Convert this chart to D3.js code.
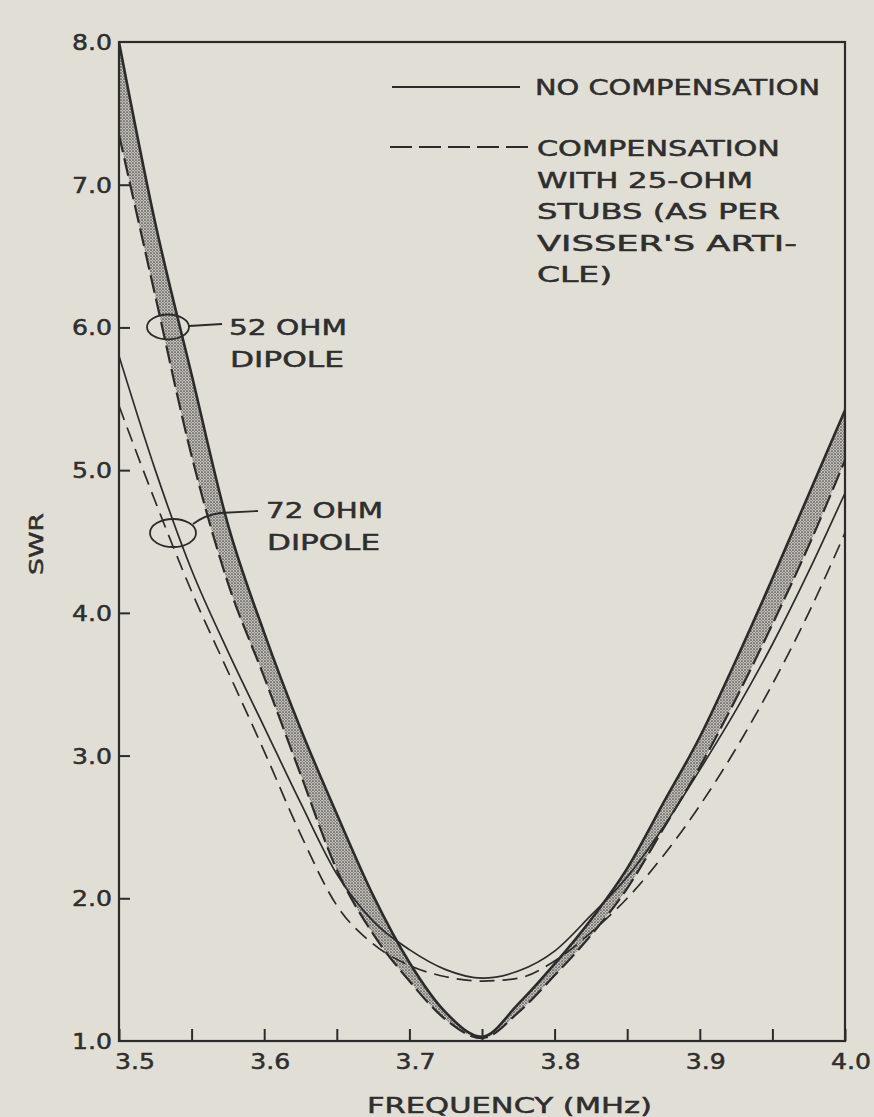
<!DOCTYPE html>
<html>
<head>
<meta charset="utf-8">
<script src="https://cdn.jsdelivr.net/npm/d3@7"></script>
<style>
  html, body { margin: 0; padding: 0; background: #e1ded5; }
  svg { display: block; }
  text { font-family: "DejaVu Sans", "Liberation Sans", sans-serif; fill: #2e2e2e;
         stroke: #2e2e2e; stroke-width: 0.5px; }
</style>
</head>
<body>
<svg id="chart" width="874" height="1117"></svg>
<script>
// Frequency samples (MHz) along the 80-meter band
const freqs = [3.500, 3.525, 3.550, 3.575, 3.600, 3.625, 3.650, 3.675, 3.700, 3.725,
               3.750, 3.775, 3.800, 3.825, 3.850, 3.875, 3.900, 3.925, 3.950, 3.975, 4.000];

// SWR of the 52-ohm dipole, no compensation / with 25-ohm stubs
const swr52Plain = [8.00, 6.73, 5.67, 4.62, 3.86, 3.19, 2.59, 2.02, 1.55, 1.20,
                    1.03, 1.26, 1.54, 1.85, 2.21, 2.67, 3.13, 3.67, 4.24, 4.83, 5.42];
const swr52Comp  = [7.35, 6.22, 5.10, 4.21, 3.55, 2.87, 2.20, 1.75, 1.42, 1.15,
                    1.02, 1.20, 1.46, 1.74, 2.07, 2.49, 2.92, 3.40, 3.92, 4.47, 5.07];

// SWR of the 72-ohm dipole, no compensation / with 25-ohm stubs
const swr72Plain = [5.80, 5.00, 4.30, 3.73, 3.20, 2.67, 2.17, 1.84, 1.64, 1.50,
                    1.44, 1.49, 1.63, 1.88, 2.15, 2.50, 2.90, 3.32, 3.78, 4.29, 4.84];
const swr72Comp  = [5.45, 4.78, 4.15, 3.59, 3.03, 2.45, 1.95, 1.68, 1.53, 1.45,
                    1.42, 1.44, 1.56, 1.76, 2.00, 2.30, 2.65, 3.05, 3.50, 4.00, 4.56];

// Axis ticks and labels
const xTickValues = [3.50, 3.55, 3.60, 3.65, 3.70, 3.75, 3.80, 3.85, 3.90, 3.95, 4.00];
const xLabelValues = [3.5, 3.6, 3.7, 3.8, 3.9, 4.0];
const yTickValues = [1, 2, 3, 4, 5, 6, 7, 8];

const legendSolid = ["NO COMPENSATION"];
const legendDashed = ["COMPENSATION", "WITH 25-OHM", "STUBS (AS PER", "VISSER'S ARTI-", "CLE)"];
const note52 = ["52 OHM", "DIPOLE"];
const note72 = ["72 OHM", "DIPOLE"];

const ink = "#2b2b2b";
const svg = d3.select("#chart");

const x = d3.scaleLinear().domain([3.5, 4.0]).range([119, 845]);
const y = d3.scaleLinear().domain([1, 8]).range([1041, 42]);

// Stipple used to shade the band between the two 52-ohm curves
const defs = svg.append("defs");
const pat = defs.append("pattern")
  .attr("id", "stipple").attr("patternUnits", "userSpaceOnUse")
  .attr("width", 3).attr("height", 3);
pat.append("rect").attr("width", 3).attr("height", 3).attr("fill", "#c2bfb7");
pat.append("circle").attr("cx", 1).attr("cy", 1).attr("r", 0.85).attr("fill", "#454545");
pat.append("circle").attr("cx", 2.5).attr("cy", 2.5).attr("r", 0.55).attr("fill", "#777");

defs.append("clipPath").attr("id", "plot")
  .append("rect").attr("x", 119).attr("y", 42).attr("width", 726).attr("height", 999);

// Text helper: fit a string to a measured width
function label(g, str, px, py, size, width, anchor) {
  const t = g.append("text")
    .attr("x", px).attr("y", py)
    .attr("font-size", size)
    .attr("text-anchor", anchor || "start")
    .text(str);
  if (width) t.attr("textLength", width).attr("lengthAdjust", "spacingAndGlyphs");
  return t;
}

const plot = svg.append("g").attr("clip-path", "url(#plot)");

// Shaded band for the 52-ohm dipole
const idx = d3.range(freqs.length);
plot.append("path")
  .datum(idx)
  .attr("d", d3.area()
    .x(i => x(freqs[i]))
    .y0(i => y(swr52Comp[i]))
    .y1(i => y(swr52Plain[i]))
    .curve(d3.curveMonotoneX))
  .attr("fill", "url(#stipple)");

function curve(values, width, dash) {
  const p = plot.append("path")
    .datum(idx)
    .attr("d", d3.line()
      .x(i => x(freqs[i]))
      .y(i => y(values[i]))
      .curve(d3.curveMonotoneX))
    .attr("fill", "none")
    .attr("stroke", ink)
    .attr("stroke-width", width)
    .attr("stroke-linecap", "butt");
  if (dash) p.attr("stroke-dasharray", dash);
}

curve(swr72Comp, 1.7, "15,8");
curve(swr72Plain, 1.7, null);
curve(swr52Comp, 2.2, "18,6");
curve(swr52Plain, 2.6, null);

// Frame
svg.append("rect")
  .attr("x", 119).attr("y", 42).attr("width", 726).attr("height", 999)
  .attr("fill", "none").attr("stroke", ink).attr("stroke-width", 2.2);

// X axis: inward ticks along the bottom edge
const xAxis = d3.axisTop(x).tickValues(xTickValues).tickSize(12).tickFormat("");
const gx = svg.append("g").attr("transform", "translate(0,1041)").call(xAxis);
gx.select(".domain").remove();
gx.selectAll("line").attr("stroke", ink).attr("stroke-width", 2);

// Y axis: inward ticks along the left edge
const yAxis = d3.axisRight(y).tickValues(yTickValues.slice(1, -1)).tickSize(11).tickFormat("");
const gy = svg.append("g").attr("transform", "translate(119,0)").call(yAxis);
gy.select(".domain").remove();
gy.selectAll("line").attr("stroke", ink).attr("stroke-width", 2);

const labels = svg.append("g");
yTickValues.forEach(v => {
  label(labels, v.toFixed(1), 112, y(v) + 8, 22, 40, "end");
});
xLabelValues.forEach((v, i) => {
  if (i === 0) label(labels, v.toFixed(1), x(v) - 4, 1069, 22, 40, "start");
  else label(labels, v.toFixed(1), x(v) + 6, 1069, 22, 40, "middle");
});

label(labels, "FREQUENCY (MHz)", 367, 1113, 21, 285, "start");
label(labels, "SWR", 0, 0, 20, 62, "middle")
  .attr("transform", "translate(43,544) rotate(-90)");

// Legend
const lg = svg.append("g");
lg.append("line").attr("x1", 392).attr("x2", 520).attr("y1", 87).attr("y2", 87)
  .attr("stroke", ink).attr("stroke-width", 2);
label(lg, legendSolid[0], 535, 95, 21, 285);
lg.append("line").attr("x1", 390).attr("x2", 528).attr("y1", 147).attr("y2", 147)
  .attr("stroke", ink).attr("stroke-width", 2).attr("stroke-dasharray", "22,7");
const legendWidths = [243, 216, 243, 260, 75];
legendDashed.forEach((s, i) => {
  label(lg, s, 537, 156 + i * 31.5, 21, legendWidths[i]);
});

// Curve callouts
const ann = svg.append("g");
ann.append("ellipse").attr("cx", 168).attr("cy", 327).attr("rx", 21).attr("ry", 12.5)
  .attr("fill", "none").attr("stroke", ink).attr("stroke-width", 1.8);
ann.append("line").attr("x1", 189).attr("x2", 222).attr("y1", 326).attr("y2", 324)
  .attr("stroke", ink).attr("stroke-width", 1.8);
label(ann, note52[0], 229, 335, 21, 118);
label(ann, note52[1], 230, 367, 21, 114);

ann.append("ellipse").attr("cx", 173).attr("cy", 533).attr("rx", 23).attr("ry", 14)
  .attr("fill", "none").attr("stroke", ink).attr("stroke-width", 1.8);
ann.append("path").attr("d", "M193,524 Q205,515 220,513 L258,511")
  .attr("fill", "none").attr("stroke", ink).attr("stroke-width", 1.8);
label(ann, note72[0], 266, 518, 21, 117);
label(ann, note72[1], 267, 550, 21, 113);
</script>
</body>
</html>
